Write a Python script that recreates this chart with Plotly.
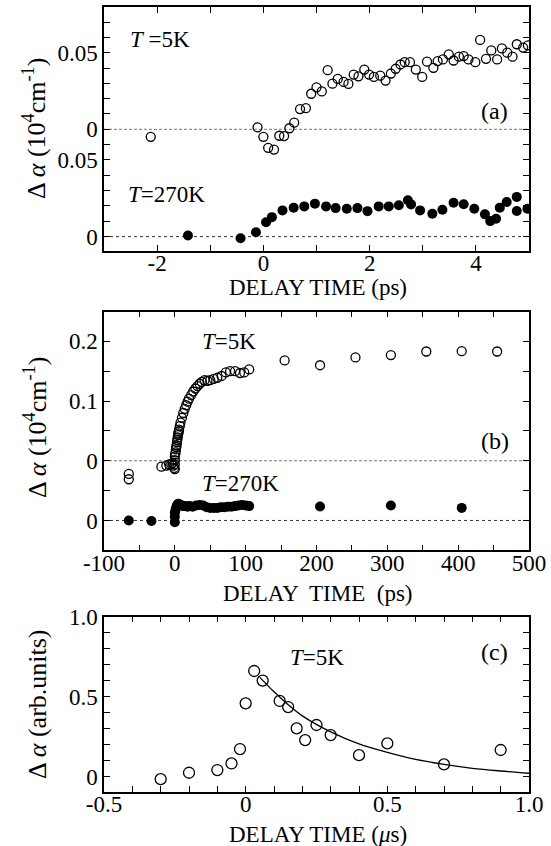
import plotly.graph_objects as go

# ---------------- data ----------------
# panel (a): T=5K (open), values relative to its own zero; T=270K (filled)
a5_x = [-2.12, -0.11, 0.0, 0.09, 0.2, 0.3, 0.39, 0.49, 0.58, 0.69, 0.8, 0.9, 1.0, 1.1, 1.21, 1.3, 1.4,
        1.51, 1.6, 1.7, 1.79, 1.9, 1.99, 2.08, 2.2, 2.3, 2.4, 2.49, 2.58, 2.66, 2.76, 2.87, 2.99,
        3.08, 3.2, 3.28, 3.38, 3.49, 3.58, 3.68, 3.77, 3.86, 3.99, 4.08, 4.19, 4.29, 4.4, 4.49,
        4.59, 4.69, 4.77, 4.89, 4.98]
a5_y = [-0.0049, 0.0013, -0.0049, -0.0121, -0.0132, -0.0042, -0.0044, 0.0007, 0.0043, 0.0132,
        0.0138, 0.0232, 0.0274, 0.0247, 0.0386, 0.0298, 0.0329, 0.0309, 0.0296, 0.0357, 0.0346,
        0.039, 0.0357, 0.0342, 0.035, 0.0318, 0.0364, 0.0395, 0.0423, 0.0438, 0.0438, 0.039,
        0.0342, 0.0441, 0.0401, 0.0445, 0.0456, 0.0489, 0.0449, 0.0474, 0.0478, 0.0456, 0.0438,
        0.0583, 0.046, 0.0515, 0.0456, 0.0528, 0.05, 0.0474, 0.0555, 0.0533, 0.0548]
a270_x = [-1.42, -0.43, -0.14, 0.05, 0.16, 0.36, 0.57, 0.77, 0.97, 1.18, 1.36, 1.57, 1.77, 1.96,
          2.17, 2.36, 2.55, 2.72, 2.78, 2.95, 3.18, 3.37, 3.58, 3.77, 3.97, 4.17, 4.27, 4.38,
          4.45, 4.58, 4.77, 4.77, 4.97]
a270_y = [0.0007, -0.0011, 0.0028, 0.0094, 0.0127, 0.0171, 0.0189, 0.0197, 0.0215, 0.0197, 0.0186,
          0.0182, 0.0186, 0.0166, 0.0197, 0.0197, 0.0204, 0.0237, 0.021, 0.0171, 0.0149, 0.0175,
          0.0221, 0.0211, 0.0182, 0.0145, 0.0101, 0.0116, 0.0189, 0.0226, 0.0259, 0.0167, 0.0182]
A_OFFSET = 0.07

# panel (b)
b5_x = [-65, -65, -19, -12, -8, -5, -3, -2, -1, 0, 0, 0, 0, 0.5, 1, 1.5, 2, 2.5, 3, 3.5, 4, 4.5,
        5, 5.5, 6, 7, 8, 10, 12, 14, 16, 18, 20, 23, 26, 29, 32, 35, 38, 42, 46, 50, 55, 60, 66,
        72, 78, 85, 92, 98, 105, 155, 205, 255, 305, 355, 405, 455]
b5_y = [-0.022, -0.031, -0.010, -0.008, -0.006, -0.005, -0.004, -0.008, -0.012, -0.014, -0.006,
        0.001, 0.007, 0.011, 0.014, 0.019, 0.023, 0.026, 0.031, 0.035, 0.039, 0.043, 0.046, 0.049,
        0.052, 0.058, 0.064, 0.072, 0.080, 0.087, 0.093, 0.099, 0.104, 0.110, 0.116, 0.121,
        0.125, 0.129, 0.132, 0.135, 0.134, 0.135, 0.137, 0.139, 0.142, 0.148, 0.150, 0.150,
        0.147, 0.148, 0.153, 0.168, 0.160, 0.173, 0.177, 0.183, 0.1835, 0.183]
b270_x = [-65, -33, 0, 0, 0, 1, 2, 3, 4, 5, 6, 8, 10, 12, 15, 18, 21, 25, 30, 35, 40, 45, 50, 55,
          60, 65, 70, 75, 80, 85, 90, 95, 100, 105, 205, 305, 405]
b270_y = [0.000, -0.001, -0.003, 0.006, 0.013, 0.018, 0.022, 0.025, 0.027, 0.028, 0.027, 0.026,
          0.025, 0.024, 0.024, 0.023, 0.024, 0.023, 0.025, 0.026, 0.025, 0.022, 0.021, 0.021,
          0.021, 0.022, 0.022, 0.023, 0.023, 0.024, 0.025, 0.026, 0.025, 0.024, 0.0235, 0.025,
          0.021]
B_OFFSET = 0.1

# panel (c)
c_x = [-0.3, -0.2, -0.1, -0.05, -0.02, 0.0, 0.03, 0.06, 0.12, 0.15, 0.18, 0.21, 0.25, 0.3, 0.4,
       0.5, 0.7, 0.9]
c_y = [-0.015, 0.025, 0.042, 0.083, 0.173, 0.458, 0.66, 0.6, 0.473, 0.435, 0.302, 0.229, 0.323,
       0.26, 0.135, 0.208, 0.077, 0.167]
cfit_x = [0.05, 0.1, 0.15, 0.2, 0.3, 0.4, 0.5, 0.6, 0.7, 0.8, 0.9, 1.0]
cfit_y = [0.62, 0.53, 0.45, 0.38, 0.28, 0.205, 0.152, 0.108, 0.077, 0.053, 0.036, 0.022]

# tick labels
a_xticks = [-2, 0, 2, 4]
a_xtext = ["-2", "0", "2", "4"]
a_yticks = [0, 0.05, 0.07, 0.12]
a_ytext = ["0", "0.05", "0", "0.05"]
b_xticks = [-100, 0, 100, 200, 300, 400, 500]
b_xtext = ["-100", "0", "100", "200", "300", "400", "500"]
b_yticks = [0, 0.1, 0.2, 0.3]
b_ytext = ["0", "0", "0.1", "0.2"]
c_xticks = [-0.5, 0, 0.5, 1.0]
c_xtext = ["-0.5", "0", "0.5", "1.0"]
c_yticks = [0, 0.5, 1.0]
c_ytext = ["0", "0.5", "1.0"]

# ---------------- layout helpers ----------------
W, H = 551, 846
ML, MR, MT, MB = 104, 22, 7, 54
PW, PH = W - ML - MR, H - MT - MB


def fx(p):
    return (p - ML) / PW


def fy(p):
    return 1 - (p - MT) / PH


FONT = "Liberation Serif, Times New Roman, serif"
open_m = dict(symbol="circle-open", color="black", line=dict(width=1.3, color="black"))
fill_m = dict(symbol="circle", color="black")

fig = go.Figure()
fig.add_trace(go.Scatter(x=a5_x, y=[v + A_OFFSET for v in a5_y], mode="markers",
                         marker=dict(size=9, **open_m), xaxis="x", yaxis="y"))
fig.add_trace(go.Scatter(x=a270_x, y=a270_y, mode="markers",
                         marker=dict(size=10, **fill_m), xaxis="x", yaxis="y"))
fig.add_trace(go.Scatter(x=b5_x, y=[v + B_OFFSET for v in b5_y], mode="markers",
                         marker=dict(size=9, **open_m), xaxis="x2", yaxis="y2"))
fig.add_trace(go.Scatter(x=b270_x, y=b270_y, mode="markers",
                         marker=dict(size=10, **fill_m), xaxis="x2", yaxis="y2"))
fig.add_trace(go.Scatter(x=cfit_x, y=cfit_y, mode="lines", line=dict(color="black", width=1.3,
                         shape="spline"), xaxis="x3", yaxis="y3"))
fig.add_trace(go.Scatter(x=c_x, y=c_y, mode="markers",
                         marker=dict(size=11, **open_m), xaxis="x3", yaxis="y3"))


def ax(rng, tv, tt, minor_step, anchor, domain=None, standoff=0):
    d = dict(range=rng, tickmode="array", tickvals=tv, ticktext=tt, ticks="inside", ticklen=6,
             tickwidth=1.2, tickcolor="black", showline=True, linecolor="black", linewidth=1.5,
             mirror="allticks", showgrid=False, zeroline=False, anchor=anchor, automargin=False,
             ticklabelstandoff=standoff,
             tickfont=dict(family=FONT, size=23, color="black"),
             minor=dict(ticks="inside", ticklen=6, tickwidth=1.2, tickcolor="black",
                        dtick=minor_step, tick0=0, showgrid=False))
    if domain is not None:
        d["domain"] = domain
    return d


XSO = -9
fig.update_layout(
    width=W, height=H, margin=dict(l=ML, r=MR, t=MT, b=MB, autoexpand=False),
    paper_bgcolor="white", plot_bgcolor="white", showlegend=False,
    xaxis=ax([-3, 5], a_xticks, a_xtext, 1, "y", [0, 1], XSO),
    yaxis=ax([-0.0092, 0.1498], a_yticks, a_ytext, 0.01, "x", [fy(250.7), 1]),
    xaxis2=ax([-100, 500], b_xticks, b_xtext, 50, "y2", [0, 1], XSO),
    yaxis2=ax([-0.05, 0.35], b_yticks, b_ytext, 0.05, "x2", [fy(550.3), fy(311.5)]),
    xaxis3=ax([-0.5, 1.0], c_xticks, c_xtext, 0.1, "y3", [0, 1], XSO),
    yaxis3=ax([-0.095, 1.0], c_yticks, c_ytext, 0.1, "x3", [0, fy(616.5)]),
)

# zero reference lines
for xr, yr, yv, dash, col in [("x domain", "y", A_OFFSET, "3px,2px", "#777"),
                              ("x domain", "y", 0, "dot", "#333"),
                              ("x2 domain", "y2", B_OFFSET, "3px,2px", "#777"),
                              ("x2 domain", "y2", 0, "dot", "#333")]:
    fig.add_shape(type="line", xref=xr, yref=yr, x0=0, x1=1, y0=yv, y1=yv,
                  line=dict(color=col, width=1, dash=dash), layer="below")


def txt(s, x, y, size=22, xanchor="left", angle=0):
    fig.add_annotation(text=s, x=fx(x), y=fy(y), xref="paper", yref="paper", showarrow=False,
                       xanchor=xanchor, yanchor="middle", textangle=angle,
                       font=dict(family=FONT, size=size, color="black"))


txt("<i>T</i> =5K", 128, 40, size=23)
txt("<i>T</i>=270K", 126, 195, size=23)
txt("(a)", 479, 111, size=24)
txt("<i>T</i>=5K", 200, 341, size=23)
txt("<i>T</i>=270K", 200, 483, size=23)
txt("(b)", 479, 441, size=24)
txt("<i>T</i>=5K", 288, 657, size=23)
txt("(c)", 479, 652, size=24)

txt("DELAY TIME (ps)", 318, 288, size=23, xanchor="center")
txt("DELAY  TIME  (ps)", 318, 593, size=23, xanchor="center")
txt("DELAY TIME (<i>μ</i>s)", 318, 834, size=23, xanchor="center")
ytitle = "Δ <i>α</i> (10<sup>4</sup>cm<sup>-1</sup>)"
txt(ytitle, 35, 129, size=26, xanchor="center", angle=-90)
txt(ytitle, 35, 428, size=26, xanchor="center", angle=-90)
txt("Δ <i>α</i> (arb.units)", 37, 704, size=26, xanchor="center", angle=-90)

fig.write_html("out.html", config={"displayModeBar": False},
               post_script="document.body.style.margin='0';document.body.style.overflow='hidden';")
